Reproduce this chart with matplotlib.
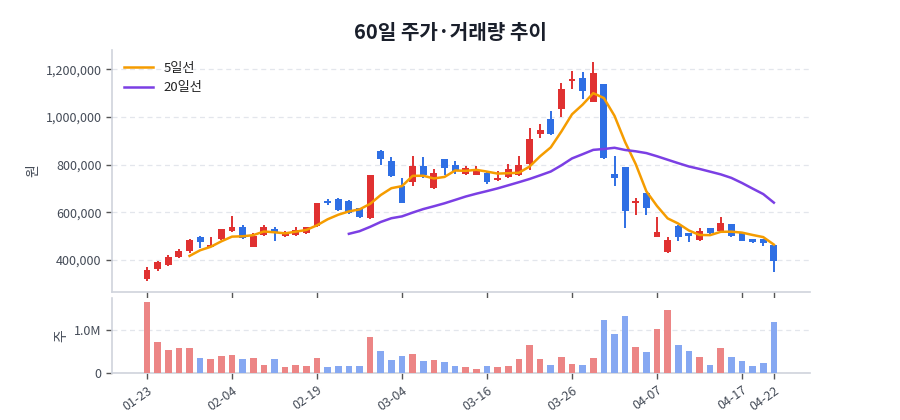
import numpy as np
import pandas as pd
import matplotlib
matplotlib.use("Agg")
import matplotlib.pyplot as plt

plt.rcParams['font.family'] = ['Noto Sans CJK KR', 'DejaVu Sans']

# 60 trading days
dates = ["01-23", "01-26", "01-27", "01-28", "01-29", "01-30", "02-02", "02-03", "02-04", "02-05",
         "02-06", "02-09", "02-10", "02-11", "02-12", "02-13", "02-19", "02-20", "02-23", "02-24",
         "02-25", "02-26", "02-27", "03-03", "03-04", "03-05", "03-06", "03-09", "03-10", "03-11",
         "03-12", "03-13", "03-16", "03-17", "03-18", "03-19", "03-20", "03-23", "03-24", "03-25",
         "03-26", "03-27", "03-30", "03-31", "04-01", "04-02", "04-03", "04-06", "04-07", "04-08",
         "04-09", "04-10", "04-13", "04-14", "04-15", "04-16", "04-17", "04-20", "04-21", "04-22"]

opens = [320000, 362000, 378000, 411000, 439000, 498000, 456000, 487000, 522000, 537000,
         453000, 505000, 531000, 501000, 505000, 512000, 543000, 649000, 657000, 646000,
         617000, 575000, 857000, 817000, 710000, 728000, 794000, 701000, 822000, 797000,
         761000, 757000, 766000, 734000, 750000, 757000, 803000, 927000, 990000, 1035000,
         1150000, 1162000, 1064000, 1138000, 760000, 789000, 638000, 680000, 498000, 432000,
         543000, 512000, 484000, 533000, 523000, 550000, 515000, 488000, 488000, 463000]
highs = [372000, 397000, 421000, 446000, 487000, 501000, 495000, 531000, 586000, 546000,
         515000, 546000, 537000, 523000, 537000, 540000, 638000, 655000, 660000, 652000,
         618000, 758000, 862000, 831000, 744000, 836000, 834000, 781000, 825000, 817000,
         794000, 794000, 769000, 775000, 803000, 836000, 953000, 971000, 1025000, 1141000,
         1193000, 1188000, 1232000, 1140000, 836000, 792000, 659000, 682000, 582000, 495000,
         546000, 515000, 536000, 536000, 582000, 552000, 518000, 489000, 488000, 463000]
lows = [313000, 355000, 375000, 408000, 431000, 449000, 453000, 484000, 516000, 487000,
        453000, 502000, 480000, 498000, 502000, 509000, 540000, 630000, 607000, 593000,
        578000, 572000, 799000, 750000, 638000, 711000, 743000, 698000, 757000, 761000,
        758000, 755000, 719000, 732000, 744000, 753000, 778000, 911000, 923000, 999000,
        1116000, 1074000, 1062000, 825000, 712000, 536000, 589000, 589000, 495000, 431000,
        479000, 474000, 481000, 509000, 520000, 498000, 480000, 473000, 460000, 348000]
closes = [358000, 390000, 414000, 439000, 484000, 477000, 463000, 529000, 537000, 491000,
          501000, 540000, 512000, 515000, 526000, 537000, 638000, 638000, 610000, 596000,
          579000, 755000, 823000, 753000, 640000, 794000, 757000, 766000, 785000, 775000,
          787000, 778000, 729000, 743000, 783000, 797000, 907000, 946000, 929000, 1116000,
          1158000, 1110000, 1186000, 827000, 743000, 607000, 646000, 617000, 519000, 484000,
          498000, 501000, 523000, 515000, 554000, 501000, 481000, 474000, 470000, 397000]
volumes = [1.635, 0.725, 0.534, 0.573, 0.573, 0.351, 0.336, 0.390, 0.413, 0.321,
           0.351, 0.190, 0.321, 0.138, 0.183, 0.168, 0.344, 0.138, 0.168, 0.160,
           0.168, 0.833, 0.504, 0.305, 0.390, 0.436, 0.282, 0.298, 0.252, 0.160,
           0.145, 0.107, 0.160, 0.138, 0.160, 0.321, 0.642, 0.321, 0.190, 0.374,
           0.214, 0.190, 0.351, 1.222, 0.909, 1.307, 0.611, 0.481, 1.009, 1.445,
           0.649, 0.504, 0.367, 0.183, 0.580, 0.374, 0.282, 0.160, 0.229, 1.170]

UP = "#e03131"
DOWN = "#2f6fe4"
UP_V = "#ec8585"
DOWN_V = "#86a8f2"
GRID = "#e3e6ec"
SPINE = "#cfd3dc"
TXT = "#444b57"

df = pd.DataFrame({"open": opens, "high": highs, "low": lows, "close": closes,
                   "vol": np.array(volumes) * 1e6})
df["ma5"] = df["close"].rolling(5).mean()
df["ma20"] = df["close"].rolling(20).mean()
x = np.arange(len(df))
up = df["close"] >= df["open"]

fig = plt.figure(figsize=(9, 4.2), dpi=100)
ax = fig.add_axes([0.1244, 0.3055, 0.7756, 0.5755])
axv = fig.add_axes([0.1244, 0.111, 0.7756, 0.179])

# candles
colors = np.where(up, UP, DOWN)
ax.vlines(x, df["low"], df["high"], colors=colors, linewidth=1.4, zorder=2)
body_lo = np.minimum(df["open"], df["close"])
body_h = np.maximum(np.abs(df["close"] - df["open"]), 2500)
ax.bar(x, body_h, bottom=body_lo, width=0.65, color=colors, zorder=3, linewidth=0)

ax.plot(x, df["ma5"], color="#f59c00", linewidth=1.8, label="5일선", zorder=4)
ax.plot(x, df["ma20"], color="#7b3fe4", linewidth=1.8, label="20일선", zorder=4)

ax.set_xlim(-3.3, 62.4)
ax.set_ylim(267000, 1281000)
ax.set_yticks([400000, 600000, 800000, 1000000, 1200000])
ax.yaxis.set_major_formatter(matplotlib.ticker.FuncFormatter(lambda v, p: f"{int(v):,}"))
ax.set_ylabel("원", color=TXT, fontsize=10)
ax.grid(axis="y", color=GRID, linestyle=(0, (4, 3)), linewidth=0.9)
ax.set_axisbelow(True)
leg = ax.legend(loc="upper left", frameon=False, fontsize=9.5, handlelength=2.2,
                bbox_to_anchor=(0.0, 1.0))
for t in leg.get_texts():
    t.set_color("#222")

# volume
vcolors = np.where(up, UP_V, DOWN_V)
axv.bar(x, df["vol"], width=0.62, color=vcolors, linewidth=0, zorder=3)
axv.set_xlim(-3.3, 62.4)
axv.set_ylim(0, 1.72e6)
axv.set_yticks([0, 1e6])
axv.set_yticklabels(["0", "1.0M"])
axv.set_ylabel("주", color=TXT, fontsize=10)
axv.grid(axis="y", color=GRID, linestyle=(0, (4, 3)), linewidth=0.9)
axv.set_axisbelow(True)

tick_idx = [0, 8, 16, 24, 32, 40, 48, 56, 59]
for a in (ax, axv):
    a.set_xticks(tick_idx)
    for s in ("top", "right"):
        a.spines[s].set_visible(False)
    for s in ("left", "bottom"):
        a.spines[s].set_color(SPINE)
        a.spines[s].set_linewidth(1.2)
    a.tick_params(colors="#555", labelcolor=TXT, labelsize=9, length=4, width=1)
ax.set_xticklabels([])
axv.set_xticklabels([dates[i] for i in tick_idx], rotation=35, ha="right",
                    rotation_mode="anchor")

fig.suptitle("60일 주가·거래량 추이", x=0.5, y=0.948, fontsize=14.5,
             fontweight="bold", color="#1a1f2b")

fig.savefig("out.png", dpi=100)
